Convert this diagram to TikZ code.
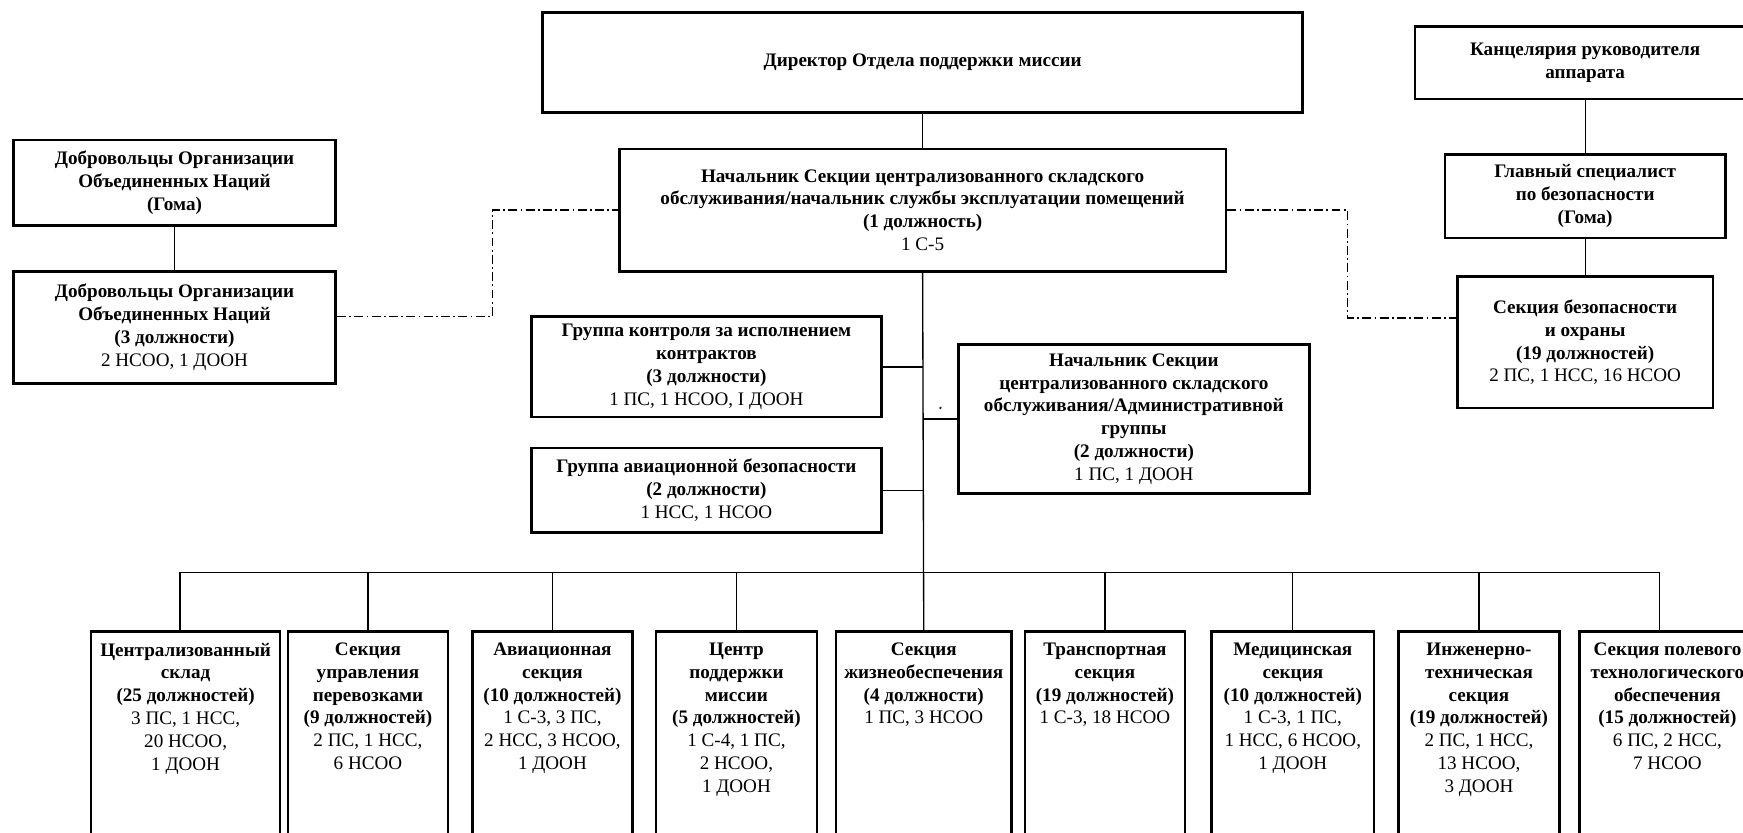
\documentclass[tikz,border=0pt]{standalone}
\usepackage{fontspec}
\setmainfont{Liberation Serif}
\newcommand{\hd}[1]{\textbf{#1}}

\begin{document}
\begin{tikzpicture}[x=0.5pt,y=-0.5pt]
\tikzset{orgbox/.style={draw, line width=1.2pt, align=center, inner sep=2pt, font=\fontsize{8.6pt}{10.25pt}\selectfont},
  cellbox/.style={draw, line width=1.2pt, anchor=north, minimum height=120pt, inner sep=0pt},
  celltext/.style={align=center, anchor=north, inner sep=2pt, yshift=-3.5pt, font=\fontsize{8.6pt}{10.25pt}\selectfont},
  link/.style={line width=0.6pt},
  liaison/.style={line width=0.6pt, dash pattern=on 4pt off 1.5pt on 0.8pt off 1.5pt}}
\useasboundingbox (0,0) rectangle (1568,749);
\clip (0,0) rectangle (1568,749);
% top of the chart
\node[orgbox, minimum width=342pt, minimum height=45pt] (dir) at (830,56) {\hd{Директор Отдела поддержки миссии}};
\node[orgbox, minimum width=273pt, minimum height=55pt] (chief) at (830,189) {\hd{Начальник Секции централизованного складского}\\ \hd{обслуживания/начальник службы эксплуатации помещений}\\ \hd{(1 должность)}\\ 1 С-5};
% left branch
\node[orgbox, minimum width=145pt, minimum height=38.5pt] (vol1) at (157,164.5) {\hd{Добровольцы Организации}\\ \hd{Объединенных Наций}\\ \hd{(Гома)}};
\node[orgbox, minimum width=145pt, minimum height=50.5pt] (vol2) at (157,294.5) {\hd{Добровольцы Организации}\\ \hd{Объединенных Наций}\\ \hd{(3 должности)}\\ 2 НСОО, 1 ДООН};
% right branch
\node[orgbox, minimum width=153pt, minimum height=32.5pt] (kanc) at (1426,56.5) {\hd{Канцелярия руководителя}\\ \hd{аппарата}};
\node[orgbox, minimum width=126pt, minimum height=37.5pt] (glav) at (1426,176.5) {\hd{Главный специалист}\\ \hd{по безопасности}\\ \hd{(Гома)}};
\node[orgbox, minimum width=115pt, minimum height=59pt] (secu) at (1426,308) {\hd{Секция безопасности}\\ \hd{и охраны}\\ \hd{(19 должностей)}\\ 2 ПС, 1 НСС, 16 НСОО};
% groups beside the trunk
\node[orgbox, minimum width=157.5pt, minimum height=45pt] (grp) at (635.5,330) {\hd{Группа контроля за исполнением}\\ \hd{контрактов}\\ \hd{(3 должности)}\\ 1 ПС, 1 НСОО, I ДООН};
\node[orgbox, minimum width=157.5pt, minimum height=38pt] (avs) at (635.5,441) {\hd{Группа авиационной безопасности}\\ \hd{(2 должности)}\\ 1 НСС, 1 НСОО};
\node[orgbox, minimum width=158pt, minimum height=67pt] (adm) at (1020,377) {\hd{Начальник Секции}\\ \hd{централизованного складского}\\ \hd{обслуживания/Административной}\\ \hd{группы}\\ \hd{(2 должности)}\\ 1 ПС, 1 ДООН};
\fill[blue] (846,367) circle (0.6pt);
% sections
\node[cellbox, minimum width=85pt] (c1) at (167,567) {};
\node[cellbox, minimum width=72pt] (c2) at (331,567) {};
\node[cellbox, minimum width=72pt] (c3) at (497,567) {};
\node[cellbox, minimum width=72.5pt] (c4) at (662.5,567) {};
\node[cellbox, minimum width=79pt] (c5) at (831,567) {};
\node[cellbox, minimum width=72pt] (c6) at (994,567) {};
\node[cellbox, minimum width=73pt] (c7) at (1163,567) {};
\node[cellbox, minimum width=72.5pt] (c8) at (1330.5,567) {};
\node[cellbox, minimum width=79pt] (c9) at (1500,567) {};
\node[celltext] (t1) at (c1.north) {\hd{Централизованный}\\ \hd{склад}\\ \hd{(25 должностей)}\\ 3 ПС, 1 НСС,\\ 20 НСОО,\\ 1 ДООН};
\node[celltext] (t2) at (c2.north) {\hd{Секция}\\ \hd{управления}\\ \hd{перевозками}\\ \hd{(9 должностей)}\\ 2 ПС, 1 НСС,\\ 6 НСОО};
\node[celltext] (t3) at (c3.north) {\hd{Авиационная}\\ \hd{секция}\\ \hd{(10 должностей)}\\ 1 С-3, 3 ПС,\\ 2 НСС, 3 НСОО,\\ 1 ДООН};
\node[celltext] (t4) at (c4.north) {\hd{Центр}\\ \hd{поддержки}\\ \hd{миссии}\\ \hd{(5 должностей)}\\ 1 С-4, 1 ПС,\\ 2 НСОО,\\ 1 ДООН};
\node[celltext] (t5) at (c5.north) {\hd{Секция}\\ \hd{жизнеобеспечения}\\ \hd{(4 должности)}\\ 1 ПС, 3 НСОО};
\node[celltext] (t6) at (c6.north) {\hd{Транспортная}\\ \hd{секция}\\ \hd{(19 должностей)}\\ 1 С-3, 18 НСОО};
\node[celltext] (t7) at (c7.north) {\hd{Медицинская}\\ \hd{секция}\\ \hd{(10 должностей)}\\ 1 С-3, 1 ПС,\\ 1 НСС, 6 НСОО,\\ 1 ДООН};
\node[celltext] (t8) at (c8.north) {\hd{Инженерно-}\\ \hd{техническая}\\ \hd{секция}\\ \hd{(19 должностей)}\\ 2 ПС, 1 НСС,\\ 13 НСОО,\\ 3 ДООН};
\node[celltext] (t9) at (c9.north) {\hd{Секция полевого}\\ \hd{технологического}\\ \hd{обеспечения}\\ \hd{(15 должностей)}\\ 6 ПС, 2 НСС,\\ 7 НСОО};
% connectors
\coordinate (bus) at (830,515);
\draw[link] (dir.south) -- (chief.north);
\draw[link] (chief.south) -- (c5.north);
\draw[link] (grp.east) -- (grp.east -| chief.south);
\draw[link] (avs.east) -- (avs.east -| chief.south);
\draw[link] (adm.west) -- (adm.west -| chief.south);
\draw[link] (vol1.south) -- (vol2.north);
\draw[link] (kanc.south) -- (glav.north);
\draw[link] (glav.south) -- (secu.north);
\draw[link] ([xshift=-2.5pt]c1.north) -- ([xshift=-2.5pt]c1.north |- bus) -| ([xshift=-3.5pt]c9.north);
\draw[link] (c2.north) -- (c2.north |- bus);
\draw[link] (c3.north) -- (c3.north |- bus);
\draw[link] (c4.north) -- (c4.north |- bus);
\draw[link] (c6.north) -- (c6.north |- bus);
\draw[link] (c7.north) -- (c7.north |- bus);
\draw[link] (c8.north) -- (c8.north |- bus);
\draw[liaison] ([yshift=5pt]vol2.east) -- ++(140,0) |- (chief.west);
\draw[liaison] (chief.east) -- ++(108,0) |- ([yshift=11pt]secu.west);
\end{tikzpicture}
\end{document}
